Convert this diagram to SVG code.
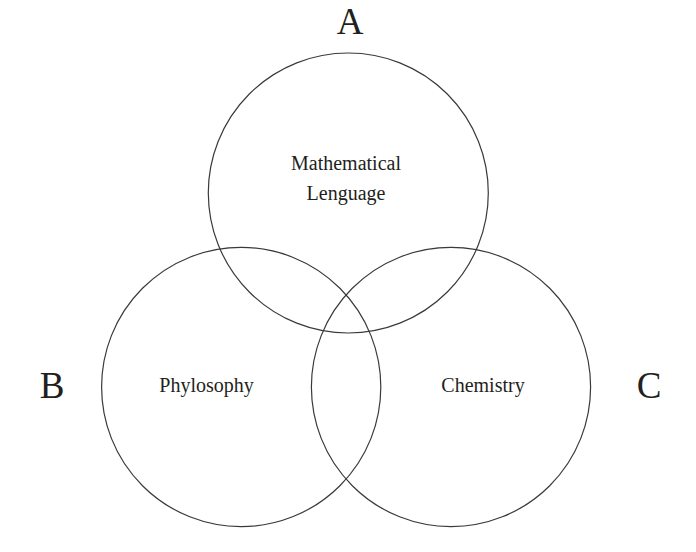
<svg xmlns="http://www.w3.org/2000/svg" width="696" height="552" viewBox="0 0 696 552">
<style>
.c{fill:none;stroke:#3a3a3c;stroke-width:1.2}
.t{font-family:"Liberation Serif","DejaVu Serif",serif;fill:#231f20;text-anchor:middle}
.big{font-size:37px}
.lbl{font-size:20px}
</style>
<rect width="696" height="552" fill="#fff"/>
<g id="circleA"><circle class="c" cx="348.3" cy="193" r="140"/><text class="t lbl" x="346" y="170">Mathematical</text><text class="t lbl" x="346" y="200">Lenguage</text></g>
<g id="circleB"><circle class="c" cx="241.2" cy="387" r="139.6"/><text class="t lbl" x="206.5" y="392">Phylosophy</text></g>
<g id="circleC"><circle class="c" cx="451" cy="387" r="139.6"/><text class="t lbl" x="483" y="392">Chemistry</text></g>
<g id="labels"><text class="t big" x="350" y="33.5">A</text><text class="t big" x="52" y="398">B</text><text class="t big" x="649" y="398">C</text></g>
<g id="connectors"/>
</svg>
